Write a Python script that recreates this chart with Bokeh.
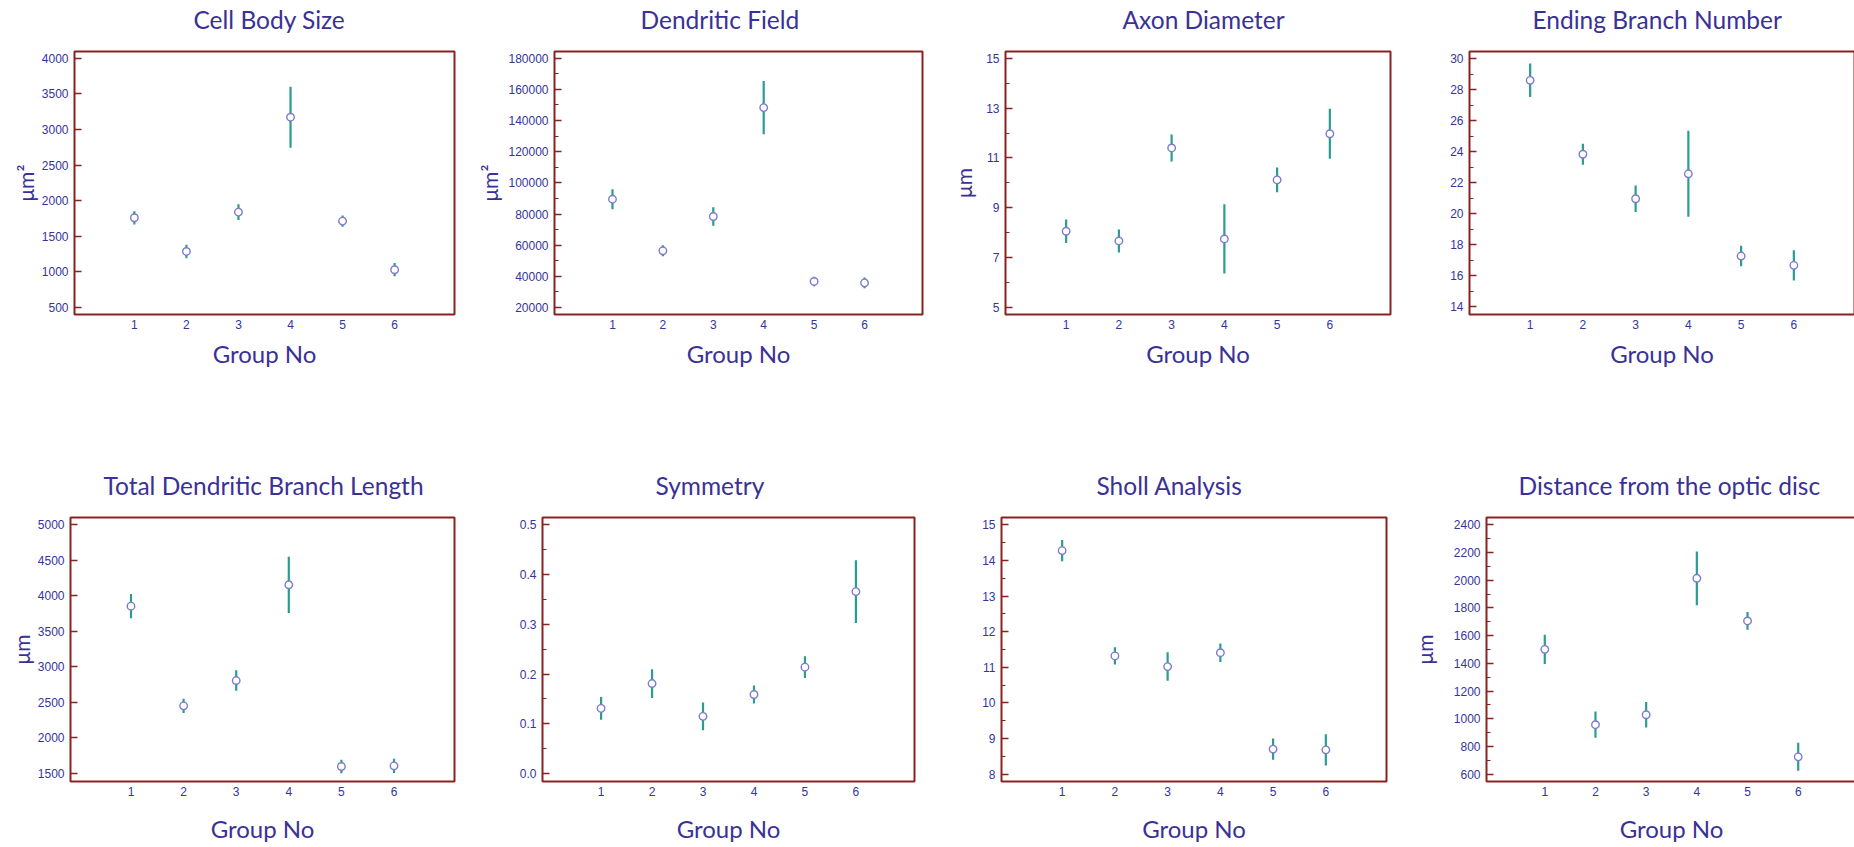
from bokeh.plotting import figure
from bokeh.layouts import column, row
from bokeh.models import FixedTicker, NumeralTickFormatter, Range1d, ColumnDataSource, Title
from bokeh.embed import file_html
from bokeh.resources import INLINE

# ---------------- data ----------------
groups = [1, 2, 3, 4, 5, 6]

cell_body_mean = [1759, 1286, 1838, 3172, 1712, 1029]
cell_body_err = [93, 95, 110, 428, 80, 93]
cell_body_ticks = [500, 1000, 1500, 2000, 2500, 3000, 3500, 4000]

dendritic_field_mean = [89500, 56400, 78400, 148300, 36700, 35800]
dendritic_field_err = [6400, 3500, 5900, 17100, 3100, 3400]
dendritic_field_ticks = [20000, 40000, 60000, 80000, 100000, 120000, 140000, 160000, 180000]

axon_mean = [8.06, 7.67, 11.40, 7.75, 10.12, 11.97]
axon_err = [0.47, 0.46, 0.54, 1.39, 0.50, 1.00]
axon_ticks = [5, 7, 9, 11, 13, 15]

ending_mean = [28.61, 23.84, 20.97, 22.58, 17.27, 16.67]
ending_err = [1.08, 0.68, 0.86, 2.77, 0.66, 0.97]
ending_ticks = [14, 16, 18, 20, 22, 24, 26, 28, 30]

total_len_mean = [3852, 2451, 2807, 4152, 1599, 1608]
total_len_err = [171, 99, 143, 396, 94, 100]
total_len_ticks = [1500, 2000, 2500, 3000, 3500, 4000, 4500, 5000]

symmetry_mean = [0.131, 0.181, 0.115, 0.159, 0.214, 0.366]
symmetry_err = [0.023, 0.029, 0.028, 0.018, 0.022, 0.063]
symmetry_ticks = [0.0, 0.1, 0.2, 0.3, 0.4, 0.5]

sholl_mean = [14.28, 11.32, 11.02, 11.41, 8.70, 8.68]
sholl_err = [0.30, 0.24, 0.40, 0.26, 0.30, 0.44]
sholl_ticks = [8, 9, 10, 11, 12, 13, 14, 15]

distance_mean = [1501, 957, 1029, 2014, 1706, 725]
distance_err = [105, 95, 92, 194, 64, 101]
distance_ticks = [600, 800, 1000, 1200, 1400, 1600, 1800, 2000, 2200, 2400]

# ---------------- styles ----------------
TEXT_BLUE = "#3a3196"
TICK_BLUE = "#34349e"
FRAME_RED = "#8b2222"
BAR_TEAL = "#2a9d8f"
MARK_LINE = "#7b7bd0"


def minor_between(ticks, n):
    out = []
    for a, b in zip(ticks[:-1], ticks[1:]):
        step = (b - a) / n
        for k in range(1, n):
            out.append(a + k * step)
    return out


def panel(title, ylabel, mean, err, ticks, n_minor, yr, fmt,
          left, fw, right, top, fh, bottom, title_off, ylab_standoff, xlab_standoff, gap):
    p = figure(frame_width=fw, frame_height=fh,
               min_border_left=left, min_border_right=right,
               min_border_top=top, min_border_bottom=bottom,
               x_range=Range1d(-0.15, 7.15), y_range=Range1d(*yr),
               output_backend="svg", toolbar_location=None,
               background_fill_color="white", border_fill_color="white")
    p.grid.visible = False
    p.outline_line_color = FRAME_RED
    p.outline_line_width = 2
    p.outline_line_alpha = 1

    # invisible spacer between frame and title, then the title itself
    p.add_layout(Title(text=" ", text_font_size="1px", standoff=gap), "above")
    p.add_layout(Title(text=title, align="left", offset=title_off, text_font="Lato",
                       text_font_size="24.5px", text_font_style="normal",
                       text_color=TEXT_BLUE, standoff=2), "above")

    lo = [m - e for m, e in zip(mean, err)]
    hi = [m + e for m, e in zip(mean, err)]
    src = ColumnDataSource(dict(x=groups, m=mean, lo=lo, hi=hi))
    p.segment(x0="x", y0="lo", x1="x", y1="hi", source=src,
              line_color=BAR_TEAL, line_width=2.2)
    p.scatter(x="x", y="m", source=src, marker="circle", size=7.5,
              fill_color="white", line_color=MARK_LINE, line_width=1.4)

    xa = p.xaxis[0]
    xa.ticker = FixedTicker(ticks=groups)
    xa.axis_line_color = None
    xa.major_tick_in = 0
    xa.major_tick_out = 0
    xa.minor_tick_line_color = None
    xa.major_label_text_font = "Liberation Sans"
    xa.major_label_text_font_size = "12px"
    xa.major_label_text_color = TICK_BLUE
    xa.major_label_standoff = 5
    xa.axis_label = "Group No"
    xa.axis_label_text_font = "Lato"
    xa.axis_label_text_font_size = "24px"
    xa.axis_label_text_font_style = "normal"
    xa.axis_label_text_color = TEXT_BLUE
    xa.axis_label_standoff = xlab_standoff

    ya = p.yaxis[0]
    ya.ticker = FixedTicker(ticks=ticks, minor_ticks=minor_between(ticks, n_minor) if n_minor > 1 else [])
    ya.formatter = NumeralTickFormatter(format=fmt)
    ya.axis_line_color = None
    ya.major_tick_in = 7
    ya.major_tick_out = 0
    ya.major_tick_line_color = FRAME_RED
    ya.major_tick_line_width = 1.5
    ya.minor_tick_in = 4
    ya.minor_tick_out = 0
    ya.minor_tick_line_color = FRAME_RED
    ya.minor_tick_line_width = 1.2
    ya.major_label_text_font = "Liberation Sans"
    ya.major_label_text_font_size = "12px"
    ya.major_label_text_color = TICK_BLUE
    ya.major_label_standoff = 6
    if ylabel:
        ya.axis_label = ylabel
        ya.axis_label_text_font = "Lato"
        ya.axis_label_text_font_size = "21px"
        ya.axis_label_text_font_style = "normal"
        ya.axis_label_text_color = TEXT_BLUE
        ya.axis_label_standoff = ylab_standoff
    return p


TOP = dict(top=51, fh=263, bottom=152, xlab_standoff=7, gap=13.5)
BOT = dict(top=51, fh=264, bottom=66, xlab_standoff=15, gap=13.5)

p1 = panel("Cell Body Size", "\u03bcm\u00b2", cell_body_mean, cell_body_err, cell_body_ticks, 1,
           (400, 4095), "0", 74, 380, 20, title_off=119, ylab_standoff=1, **TOP)
p2 = panel("Dendritic Field", "\u03bcm\u00b2", dendritic_field_mean, dendritic_field_err,
           dendritic_field_ticks, 2, (15500, 184300), "0", 78, 368, 25, title_off=86, ylab_standoff=3, **TOP)
p3 = panel("Axon Diameter", "\u03bcm", axon_mean, axon_err, axon_ticks, 2,
           (4.72, 15.27), "0", 58, 385, 52, title_off=117, ylab_standoff=7, **TOP)
p4 = panel("Ending Branch Number", None, ending_mean, ending_err, ending_ticks, 2,
           (13.5, 30.47), "0", 27, 385, 2, title_off=63, ylab_standoff=0, **TOP)

p5 = panel("Total Dendritic Branch Length", "\u03bcm", total_len_mean, total_len_err, total_len_ticks, 1,
           (1388, 5098), "0", 70, 384, 39, title_off=33, ylab_standoff=1, **BOT)
p6 = panel("Symmetry", None, symmetry_mean, symmetry_err, symmetry_ticks, 2,
           (-0.016, 0.515), "0.0", 49, 372, 44, title_off=113, ylab_standoff=0, **BOT)
p7 = panel("Sholl Analysis", None, sholl_mean, sholl_err, sholl_ticks, 2,
           (7.79, 15.21), "0", 43, 385, 22, title_off=95, ylab_standoff=0, **BOT)
p8 = panel("Distance from the optic disc", "\u03bcm", distance_mean, distance_err, distance_ticks, 2,
           (547, 2453), "0", 73, 370, 3, title_off=32, ylab_standoff=14, **BOT)

layout = column(row(p1, p2, p3, p4), row(p5, p6, p7, p8))

with open("out.html", "w") as f:
    f.write(file_html(layout, INLINE))
